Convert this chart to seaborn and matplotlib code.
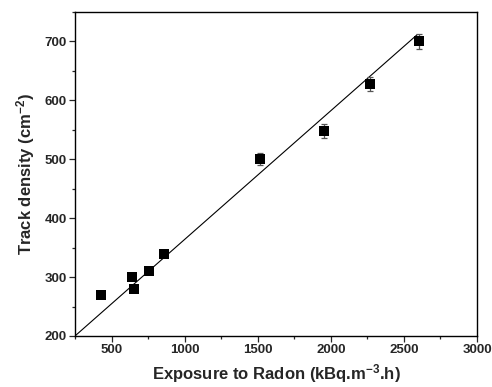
import numpy as np
import pandas as pd
import matplotlib
matplotlib.use("Agg")
import matplotlib.pyplot as plt
import seaborn as sns
from matplotlib.ticker import MultipleLocator

# exposure (kBq.m-3.h) vs track density (cm-2)
exposure = [428, 642, 654, 756, 857, 1515, 1955, 2268, 2605]
density = [270, 300, 280, 310, 339, 500, 548, 628, 700]
density_err = [3, 3, 3, 3, 3, 10, 12, 12, 13]

# linear fit drawn in the original
fit_slope = 0.2185
fit_intercept = 145.4
fit_x = [200, 2590]

df = pd.DataFrame({'Exposure': exposure, 'Density': density, 'Err': density_err})

sns.set_style("ticks")
plt.rcParams['font.family'] = ['Liberation Sans', 'DejaVu Sans']
plt.rcParams['font.weight'] = 'bold'
plt.rcParams['mathtext.fontset'] = 'custom'
plt.rcParams['mathtext.bf'] = 'Liberation Sans:bold'
plt.rcParams['mathtext.rm'] = 'Liberation Sans:bold'
plt.rcParams['mathtext.default'] = 'bf'

fig = plt.figure(figsize=(4.92, 3.87), dpi=100)
ax = fig.add_axes([0.1524, 0.1318, 0.8171, 0.8372])

fx = np.array(fit_x)
ax.plot(fx, fit_slope * fx + fit_intercept, color='black', lw=0.8, zorder=2)

ax.errorbar(df['Exposure'], df['Density'], yerr=df['Err'], fmt='none',
            ecolor='#555555', elinewidth=0.9, capsize=2.5, capthick=0.9, zorder=3)
sns.scatterplot(data=df, x='Exposure', y='Density', marker='s', s=45,
                color='black', edgecolor='black', linewidth=0, ax=ax, zorder=4)

ax.set_xlim(250, 3000)
ax.set_ylim(200, 750)
ax.xaxis.set_major_locator(MultipleLocator(500))
ax.xaxis.set_minor_locator(MultipleLocator(250))
ax.yaxis.set_major_locator(MultipleLocator(100))
ax.yaxis.set_minor_locator(MultipleLocator(50))
ax.tick_params(which='major', direction='out', length=4, width=0.9,
               bottom=True, left=True, top=False, right=False, labelsize=9.5, pad=2)
ax.tick_params(which='minor', direction='out', length=2.5, width=0.9,
               bottom=True, left=True, top=False, right=False)
for lab in ax.get_xticklabels() + ax.get_yticklabels():
    lab.set_fontweight('bold')
for name, sp in ax.spines.items():
    sp.set_visible(True)
    sp.set_color('black')
    sp.set_linewidth(1.0)
    sp.set_zorder(6)

ax.set_xlabel('Exposure to Radon (kBq.m$^{-3}$.h)', fontsize=12, fontweight='bold', labelpad=4)
ax.set_ylabel('Track density (cm$^{-2}$)', fontsize=12, fontweight='bold', labelpad=5)

fig.savefig('out.png', dpi=100, facecolor='white')
